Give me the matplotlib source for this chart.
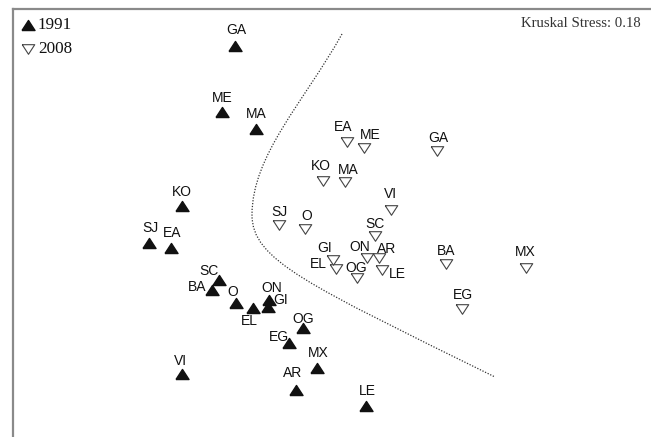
import numpy as np
import matplotlib
matplotlib.use("Agg")
import matplotlib.pyplot as plt
from matplotlib.path import Path
from matplotlib.patches import PathPatch

# Regions shown on the MDS map
regions = ["GA", "ME", "MA", "KO", "SJ", "EA", "SC", "BA", "O",
           "EL", "ON", "GI", "OG", "EG", "MX", "AR", "LE", "VI"]

# MDS configuration, 1991
dim1_1991 = [-0.95, -1.08, -0.74, -1.48, -1.81, -1.59, -1.11, -1.18, -0.94,
             -0.77, -0.61, -0.62, -0.27, -0.41, -0.13, -0.34, 0.36, -1.48]
dim2_1991 = [1.84, 1.18, 1.01, 0.24, -0.13, -0.18, -0.50, -0.60, -0.73,
             -0.78, -0.70, -0.77, -0.98, -1.13, -1.38, -1.60, -1.76, -1.44]

# MDS configuration, 2008
dim1_2008 = [1.07, 0.34, 0.15, -0.07, -0.51, 0.17, 0.45, 1.16, -0.25,
             0.06, 0.37, 0.03, 0.27, 1.32, 1.96, 0.49, 0.52, 0.61]
dim2_2008 = [0.79, 0.82, 0.48, 0.49, 0.05, 0.88, -0.06, -0.34, 0.01,
             -0.39, -0.28, -0.30, -0.48, -0.79, -0.38, -0.28, -0.40, 0.20]

# Dotted boundary between the two periods: two cubic Bezier segments
# (start, control, control, end, control, control, end)
boundary_d1 = [0.12, -0.26, -0.78, -0.78, -0.78, -0.225, 1.65]
boundary_d2 = [1.96, 1.28, 0.75, 0.15, -0.30, -0.545, -1.47]

stress = 0.18

# Label offsets in pixels (dx right, dy down) relative to each marker
off_1991 = {"GA": (1, -17), "ME": (0, -15), "MA": (0, -16), "KO": (0, -15),
            "SJ": (1, -16), "EA": (1, -16), "SC": (-10, -10), "BA": (-15, -4),
            "O": (-3, -12), "EL": (-4, 12), "ON": (3, -13), "GI": (13, -8),
            "OG": (0, -10), "EG": (-10, -7), "MX": (1, -16), "AR": (-3, -18),
            "LE": (1, -16), "VI": (-1, -14)}
off_2008 = {"GA": (1, -14), "ME": (6, -14), "MA": (3, -13), "KO": (-2, -16),
            "SJ": (0, -14), "EA": (-4, -16), "SC": (0, -13), "BA": (0, -14),
            "O": (2, -14), "EL": (-18, -6), "ON": (-7, -12), "GI": (-8, -13),
            "OG": (-1, -11), "EG": (1, -15), "MX": (-1, -17), "AR": (8, -10),
            "LE": (15, 3), "VI": (0, -17)}

W, H = 651, 437
fig = plt.figure(figsize=(W / 100, H / 100), dpi=100)
ax = fig.add_axes([13 / W, 0, 1 - 13 / W, (H - 9) / H])
ax.set_xlim(-3.17, 3.21)
ax.set_ylim(-2.07, 2.21)
ax.set_xticks([])
ax.set_yticks([])
for side in ("right", "bottom"):
    ax.spines[side].set_visible(False)
for side in ("top", "left"):
    ax.spines[side].set_color("#8a8a8a")
    ax.spines[side].set_linewidth(1.6)

tri_up = [(-0.5, -0.385), (0.5, -0.385), (0.0, 0.385), (-0.5, -0.385)]
tri_dn = [(-0.5, 0.385), (0.5, 0.385), (0.0, -0.385), (-0.5, 0.385)]

codes = [Path.MOVETO] + [Path.CURVE4] * (len(boundary_d1) - 1)
boundary = Path(np.column_stack([boundary_d1, boundary_d2]), codes)
ax.add_patch(PathPatch(boundary, facecolor="none", edgecolor="#333333",
                       lw=0.9, linestyle=(0, (1, 1.3)), zorder=1))

ax.plot(dim1_1991, dim2_1991, linestyle="none", marker=tri_up,
        markersize=9.4, color="#111111", zorder=3)
ax.plot(dim1_2008, dim2_2008, linestyle="none", marker=tri_dn,
        markersize=9.0, markerfacecolor="white", markeredgecolor="#444444",
        markeredgewidth=0.8, zorder=3)

label_kw = dict(textcoords="offset pixels", ha="center", va="baseline",
                fontsize=10, family=["Liberation Sans", "DejaVu Sans"],
                color="#111111", zorder=4)
for name, x, y in zip(regions, dim1_1991, dim2_1991):
    dx, dy = off_1991[name]
    ax.annotate(name, (x, y), xytext=(dx, -(dy + 5)), **label_kw)
for name, x, y in zip(regions, dim1_2008, dim2_2008):
    dx, dy = off_2008[name]
    ax.annotate(name, (x, y), xytext=(dx, -(dy + 5)), **label_kw)

# Legend
serif = ["Liberation Serif", "DejaVu Serif"]
ax.plot([0.0235], [0.9626], transform=ax.transAxes, marker=tri_up,
        markersize=9.4, color="#111111", linestyle="none", clip_on=False)
ax.plot([0.0235], [0.9065], transform=ax.transAxes, marker=tri_dn,
        markersize=9.0, markerfacecolor="white", markeredgecolor="#444444",
        markeredgewidth=0.8, linestyle="none", clip_on=False)
ax.text(0.039, 0.9626, "1991", transform=ax.transAxes, ha="left",
        va="center", fontsize=12.3, family=serif, color="#111111")
ax.text(0.039, 0.9065, "2008", transform=ax.transAxes, ha="left",
        va="center", fontsize=12.3, family=serif, color="#111111")

ax.text(0.984, 0.965, f"Kruskal Stress: {stress:.2f}", transform=ax.transAxes,
        ha="right", va="center", fontsize=10.6, family=serif, color="#333333")

fig.savefig("out.png", dpi=100)
